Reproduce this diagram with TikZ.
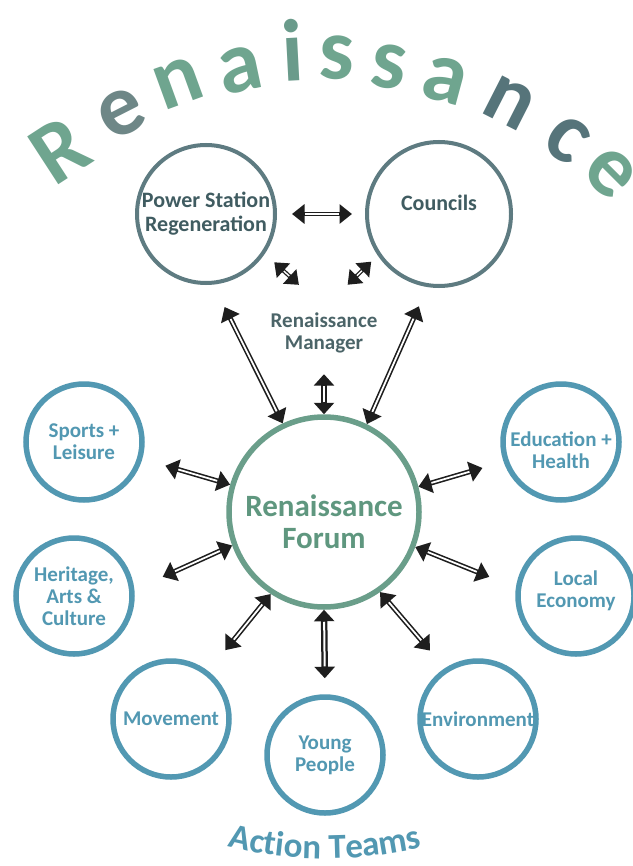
\documentclass[tikz,border=0pt]{standalone}
\usepackage{fontspec}
\setmainfont{Carlito}
\usetikzlibrary{arrows.meta,decorations.text}
\definecolor{tgreen}{HTML}{6FA58F}
\definecolor{tdark}{HTML}{56747A}
\definecolor{tgray}{HTML}{6E8787}
\definecolor{fgreen}{HTML}{6A9E8A}
\definecolor{fgreentext}{HTML}{5F977F}
\definecolor{tblue}{HTML}{5298B2}
\definecolor{slate}{HTML}{5E7B81}
\definecolor{slatetext}{HTML}{405C61}
\definecolor{mgrtext}{HTML}{4B6468}
\definecolor{arrowblack}{HTML}{1E1E1E}
\newcommand\actionfont{\fontsize{35}{35}\selectfont\bfseries}
\begin{document}
\begin{tikzpicture}[x=1pt,y=-1pt,
  titleletter/.style={inner sep=0pt, font=\fontsize{88}{88}\selectfont\bfseries},
  topcircle/.style={circle, draw=slate, line width=4pt, minimum size=#1, inner sep=0pt, align=center, text=slatetext, font=\fontsize{22}{24}\selectfont\bfseries},
  toptext/.style={align=center, text=slatetext, font=\fontsize{22}{24}\selectfont\bfseries},
  teamcircle/.style={circle, draw=tblue, line width=5.5pt, minimum size=116pt, inner sep=0pt, align=center, text=tblue, font=\fontsize{21}{22}\selectfont\bfseries},
  teamtext/.style={align=center, text=tblue, font=\fontsize{21}{22}\selectfont\bfseries},
  forumcircle/.style={circle, draw=fgreen, line width=5.5pt, minimum size=190pt, inner sep=0pt},
  forumtext/.style={align=center, text=fgreentext, font=\fontsize{31}{32}\selectfont\bfseries},
  mgrbox/.style={rectangle, minimum width=112pt, minimum height=50pt, inner sep=0pt, align=center, text=mgrtext, font=\fontsize{21}{22}\selectfont\bfseries},
  conn/.style 2 args={draw=arrowblack, line width=5pt,
    {Triangle[length=13pt,width=20pt]}-{Triangle[length=13pt,width=20pt]},
    shorten <=#1, shorten >=#2,
    postaction={draw=white, line width=1.8pt, arrows=-, shorten <=#1+13.5pt, shorten >=#2+13.5pt}},
  connthin/.style 2 args={draw=arrowblack, line width=4pt,
    {Triangle[length=12.5pt,width=19pt]}-{Triangle[length=12.5pt,width=19pt]},
    shorten <=#1, shorten >=#2,
    postaction={draw=white, line width=1.4pt, arrows=-, shorten <=#1+13pt, shorten >=#2+13pt}},
  connthick/.style 2 args={draw=arrowblack, line width=6.5pt,
    {Triangle[length=11.5pt,width=20pt]}-{Triangle[length=11.5pt,width=20pt]},
    shorten <=#1, shorten >=#2,
    postaction={draw=white, line width=2pt, arrows=-, shorten <=#1+12pt, shorten >=#2+12pt}},
]
\fill[white] (0,0) rectangle (632,866);
\useasboundingbox (0,0) rectangle (632,866);

% title letters
\node[titleletter, text=tgreen, rotate=33] (t1) at (60,150) {R};
\node[titleletter, text=tgray, rotate=27] (t2) at (122,113) {e};
\node[titleletter, text=tgreen, rotate=20] (t3) at (178,83) {n};
\node[titleletter, text=tgreen, rotate=12] (t4) at (240,70) {a};
\node[titleletter, text=tgreen!80!tdark, rotate=3] (t5) at (293,50) {i};
\node[titleletter, text=tgreen, rotate=-2] (t6) at (337,58) {s};
\node[titleletter, text=tgreen, rotate=-8] (t7) at (389,67) {s};
\node[titleletter, text=tgreen, rotate=-15] (t8) at (445,80) {a};
\node[titleletter, text=tdark, rotate=-27] (t9) at (509,103) {n};
\node[titleletter, text=tdark, rotate=-37] (t10) at (567,140) {c};
\node[titleletter, text=tgreen, rotate=-45] (t11) at (610,173) {e};

% top circles
\node[topcircle=138pt] (ps) at (206,214) {Power Station\\Regeneration};
\node[topcircle=144pt, label={[toptext, yshift=11pt]center:Councils}] (co) at (439,214) {};
\node[mgrbox] (mgr) at (324,333) {Renaissance\\Manager};

% forum
\node[forumcircle, label={[forumtext, yshift=-10pt]center:Renaissance\\Forum}] (forum) at (324,512) {};

% action teams
\node[teamcircle] (sports) at (84,442) {Sports +\\Leisure};
\node[teamcircle] (heritage) at (74,596) {Heritage,\\Arts \&\\Culture};
\node[teamcircle, label={[teamtext, yshift=-8pt]center:Education +\\Health}] (edu) at (561,442) {};
\node[teamcircle, label={[teamtext, yshift=5pt]center:Local\\Economy}] (local) at (576,596) {};
\node[teamcircle] (mov) at (171,719) {Movement};
\node[teamcircle] (yp) at (325,755) {Young\\People};
\node[teamcircle] (env) at (478,719) {Environment};

% connectors
\draw[connthin={15pt}{13pt}] (ps) -- (co);
\draw[connthin={12.7pt}{34pt}] (ps.-34) -- (mgr.north);
\draw[connthin={9pt}{33pt}] (co.-146) -- (mgr.north);
\draw[conn={25pt}{0pt}] (ps.-84) -- (forum.115);
\draw[conn={21pt}{0pt}] (co.-99) -- (forum.64);
\draw[connthick={0pt}{16pt}] (forum.north) -- (mgr.south);
\draw[conn={0pt}{24pt}] (forum) -- (sports);
\draw[conn={0pt}{31pt}] (forum.200) -- (heritage.6);
\draw[conn={0pt}{22pt}] (forum.15) -- (edu.199);
\draw[conn={0pt}{28.6pt}] (forum.-21) -- (local.172);
\draw[conn={0pt}{27pt}] (forum.237) -- (mov.52);
\draw[connthick={0pt}{16pt}] (forum.south) -- (yp.north);
\draw[conn={0pt}{23pt}] (forum.-55) -- (env.123);

% Action Teams label along an arc
\path[decorate, decoration={text along path, text={|\actionfont|Action Teams}, text align=center, text color=tblue}]
  (195,836) .. controls (268,866) and (382,866) .. (455,836);
\end{tikzpicture}
\end{document}
